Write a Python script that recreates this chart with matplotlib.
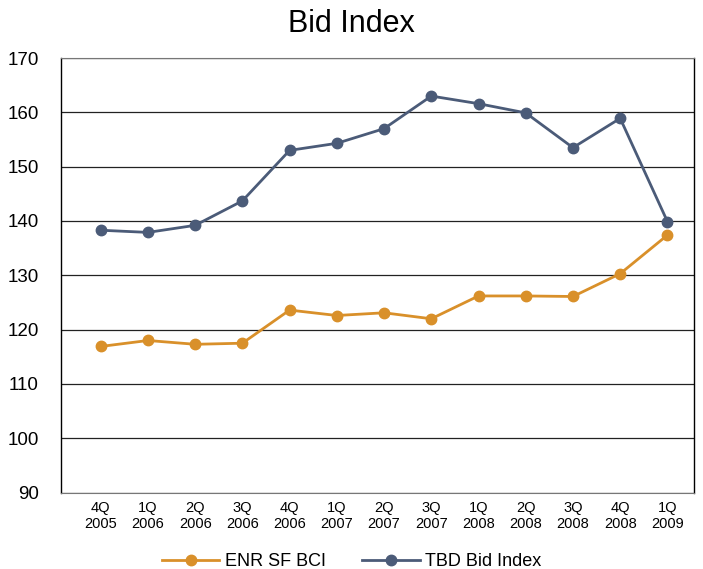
import matplotlib
matplotlib.use("Agg")
import matplotlib.pyplot as plt

plt.rcParams['font.family'] = ['Liberation Sans', 'DejaVu Sans']

categories = ["4Q\n2005", "1Q\n2006", "2Q\n2006", "3Q\n2006", "4Q\n2006", "1Q\n2007",
              "2Q\n2007", "3Q\n2007", "1Q\n2008", "2Q\n2008", "3Q\n2008", "4Q\n2008", "1Q\n2009"]
enr_sf_bci = [116.9, 118.0, 117.3, 117.5, 123.6, 122.6, 123.1, 122.0, 126.2, 126.2, 126.1, 130.3, 137.4]
tbd_bid_index = [138.3, 137.9, 139.2, 143.7, 153.0, 154.3, 157.0, 163.0, 161.6, 159.9, 153.5, 158.9, 139.9]
yticks = [90, 100, 110, 120, 130, 140, 150, 160, 170]

orange = '#D9902A'
navy = '#4B5B78'

fig = plt.figure(figsize=(7.03, 5.69), dpi=100)
ax = fig.add_axes([0.0868, 0.1343, 0.9002, 0.7637])

x = list(range(len(categories)))
ax.plot(x, enr_sf_bci, color=orange, lw=2.0, marker='o', markersize=7.5, label='ENR SF BCI')
ax.plot(x, tbd_bid_index, color=navy, lw=2.0, marker='o', markersize=7.5, label='TBD Bid Index')

ax.set_ylim(90, 170)
ax.set_xlim(-0.84, 12.56)
ax.set_yticks(yticks)
ax.set_xticks(x)
ax.set_xticklabels(categories, fontsize=10.5)
ax.tick_params(axis='y', labelsize=13.5, length=0, pad=16)
ax.tick_params(axis='x', length=0, pad=6)
ax.yaxis.grid(True, color='#222222', lw=0.9)
ax.set_axisbelow(True)

for s in ['left', 'right']:
    ax.spines[s].set_color('black')
    ax.spines[s].set_linewidth(1.0)
ax.spines['top'].set_color('#777777')
ax.spines['bottom'].set_color('#777777')

fig.suptitle('Bid Index', fontsize=22, y=0.985, va='top')

fig.legend(loc='lower center', bbox_to_anchor=(0.5, -0.03), ncol=2, frameon=False,
           fontsize=13, handlelength=3.2, columnspacing=2.0, handletextpad=0.3)

fig.savefig('out.png', dpi=100)
